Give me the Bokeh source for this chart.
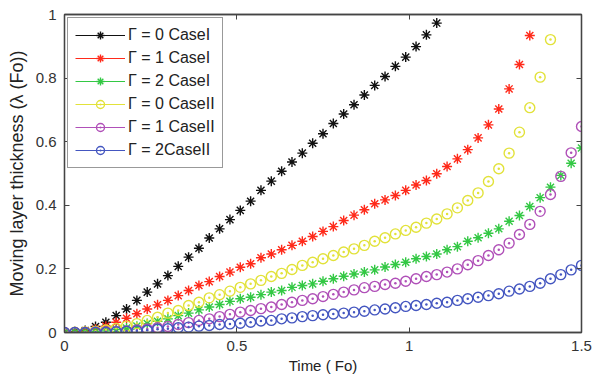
from bokeh.plotting import figure
from bokeh.models import Range1d, LinearAxis, FixedTicker, Legend, LegendItem, ColumnDataSource
from bokeh.embed import file_html
from bokeh.resources import INLINE

# ---- data ----
time_fo = [0.00, 0.03, 0.06, 0.09, 0.12, 0.15, 0.18, 0.21, 0.24, 0.27,
           0.30, 0.33, 0.36, 0.39, 0.42, 0.45, 0.48, 0.51, 0.54, 0.57,
           0.60, 0.63, 0.66, 0.69, 0.72, 0.75, 0.78, 0.81, 0.84, 0.87,
           0.90, 0.93, 0.96, 0.99, 1.02, 1.05, 1.08, 1.11, 1.14, 1.17,
           1.20, 1.23, 1.26, 1.29, 1.32, 1.35, 1.38, 1.41, 1.44, 1.47, 1.50]

g0_case1 = [0, 0.002, 0.006, 0.019, 0.032, 0.053, 0.074, 0.101, 0.127, 0.153,
            0.179, 0.208, 0.237, 0.265, 0.297, 0.326, 0.355, 0.384, 0.413, 0.447,
            0.476, 0.507, 0.536, 0.564, 0.595, 0.625, 0.657, 0.687, 0.716, 0.747,
            0.777, 0.805, 0.837, 0.866, 0.899, 0.936, 0.973]
g1_case1 = [0, 0.001, 0.004, 0.010, 0.020, 0.032, 0.045, 0.059, 0.074, 0.087,
            0.101, 0.116, 0.132, 0.148, 0.160, 0.176, 0.190, 0.205, 0.216, 0.235,
            0.247, 0.260, 0.274, 0.287, 0.302, 0.318, 0.333, 0.352, 0.369, 0.386,
            0.405, 0.417, 0.431, 0.447, 0.464, 0.478, 0.499, 0.522, 0.546, 0.575,
            0.612, 0.653, 0.703, 0.766, 0.843, 0.934]
g2_case1 = [0, 0.000, 0.001, 0.003, 0.005, 0.009, 0.014, 0.020, 0.028, 0.035,
            0.043, 0.053, 0.061, 0.071, 0.080, 0.088, 0.098, 0.106, 0.111, 0.119,
            0.127, 0.132, 0.142, 0.148, 0.153, 0.161, 0.169, 0.177, 0.184, 0.190,
            0.197, 0.206, 0.214, 0.221, 0.232, 0.239, 0.247, 0.260, 0.270, 0.287,
            0.298, 0.312, 0.326, 0.350, 0.368, 0.396, 0.424, 0.457, 0.494, 0.532, 0.580]
g0_case2 = [0, 0.001, 0.002, 0.004, 0.008, 0.013, 0.020, 0.028, 0.038, 0.048,
            0.061, 0.069, 0.085, 0.095, 0.109, 0.119, 0.130, 0.142, 0.153, 0.164,
            0.176, 0.186, 0.198, 0.211, 0.221, 0.232, 0.242, 0.253, 0.263, 0.274,
            0.287, 0.298, 0.310, 0.321, 0.331, 0.344, 0.357, 0.373, 0.392, 0.415,
            0.439, 0.475, 0.515, 0.564, 0.630, 0.707, 0.803, 0.921]
g1_case2 = [0, 0.000, 0.000, 0.001, 0.002, 0.003, 0.005, 0.008, 0.011, 0.015,
            0.019, 0.025, 0.031, 0.038, 0.043, 0.050, 0.057, 0.064, 0.069, 0.075,
            0.080, 0.088, 0.095, 0.101, 0.106, 0.113, 0.120, 0.127, 0.134, 0.141,
            0.145, 0.151, 0.155, 0.161, 0.169, 0.176, 0.182, 0.190, 0.200, 0.213,
            0.226, 0.242, 0.260, 0.281, 0.308, 0.340, 0.381, 0.434, 0.491, 0.565, 0.648]
g2_case2 = [0, 0.000, 0.000, 0.001, 0.001, 0.002, 0.004, 0.005, 0.007, 0.010,
            0.012, 0.015, 0.017, 0.020, 0.022, 0.025, 0.027, 0.029, 0.032, 0.036,
            0.038, 0.043, 0.046, 0.050, 0.053, 0.056, 0.058, 0.061, 0.064, 0.067,
            0.071, 0.074, 0.078, 0.082, 0.085, 0.088, 0.092, 0.095, 0.101, 0.106,
            0.111, 0.116, 0.122, 0.130, 0.137, 0.145, 0.155, 0.169, 0.182, 0.197, 0.211]

labels = ["\u0393 = 0 CaseI", "\u0393 = 1 CaseI", "\u0393 = 2 CaseI",
          "\u0393 = 0 CaseII", "\u0393 = 1 CaseII", "\u0393 = 2CaseII"]
series = [g0_case1, g1_case1, g2_case1, g0_case2, g1_case2, g2_case2]
colors = ["#111111", "#FF2A1A", "#33C844", "#E2E23A", "#B050B8", "#4456C0"]
markers = ["asterisk", "asterisk", "asterisk", "circle_dot", "circle_dot", "circle_dot"]

x_ticks = [0, 0.5, 1, 1.5]
y_ticks = [0, 0.2, 0.4, 0.6, 0.8, 1]

FONT = "Liberation Sans"
AX = "#444444"

p = figure(width=597, height=383, output_backend="svg", toolbar_location=None,
           x_range=Range1d(0, 1.5), y_range=Range1d(0, 1),
           min_border_left=64, min_border_right=16, min_border_top=14, min_border_bottom=51)
p.background_fill_color = "white"
p.border_fill_color = "white"
p.grid.visible = False
p.outline_line_color = AX
p.outline_line_width = 1.3

for ax in (p.xaxis[0], p.yaxis[0]):
    ax.axis_line_color = AX
    ax.axis_line_width = 1.3
    ax.major_tick_in = 5
    ax.major_tick_out = 0
    ax.major_tick_line_color = AX
    ax.minor_tick_line_color = None
    ax.major_label_text_font = FONT
    ax.major_label_text_font_size = "15px"
    ax.major_label_text_color = "#333333"
    ax.axis_label_text_font = FONT
    ax.axis_label_text_font_style = "normal"
    ax.axis_label_text_color = "#222222"

p.xaxis[0].ticker = FixedTicker(ticks=x_ticks)
p.yaxis[0].ticker = FixedTicker(ticks=y_ticks)
p.xaxis[0].major_label_overrides = {0: "0", 0.5: "0.5", 1: "1", 1.5: "1.5"}
p.yaxis[0].major_label_overrides = {0: "0", 0.2: "0.2", 0.4: "0.4", 0.6: "0.6", 0.8: "0.8", 1: "1"}
p.xaxis[0].axis_label = "Time ( Fo)"
p.xaxis[0].axis_label_text_font_size = "15px"
p.xaxis[0].major_label_standoff = 8
p.xaxis[0].axis_label_standoff = 3
p.yaxis[0].axis_label = "Moving layer thickness (\u03bb (Fo))"
p.yaxis[0].axis_label_text_font_size = "18px"
p.yaxis[0].major_label_standoff = 8
p.yaxis[0].axis_label_standoff = 6

# mirrored tick marks on top and right (no labels)
top = LinearAxis(ticker=FixedTicker(ticks=x_ticks))
right = LinearAxis(ticker=FixedTicker(ticks=y_ticks))
for ax in (top, right):
    ax.axis_line_color = AX
    ax.axis_line_width = 1.3
    ax.major_tick_in = 5
    ax.major_tick_out = 0
    ax.major_tick_line_color = AX
    ax.minor_tick_line_color = None
    ax.major_label_text_font_size = "10px"
    ax.major_label_standoff = 0
top.major_label_overrides = {t: "" for t in x_ticks}
right.major_label_overrides = {t: "" for t in y_ticks}
p.add_layout(top, "above")
p.add_layout(right, "right")

nan = float("nan")
items = []
for lab, ys, col, mk in zip(labels, series, colors, markers):
    src = ColumnDataSource(dict(x=time_fo[:len(ys)], y=ys))
    proxy = ColumnDataSource(dict(x=[nan], y=[nan]))
    lr = p.line("x", "y", source=proxy, line_color=col, line_width=1)
    if mk == "asterisk":
        sr = p.scatter("x", "y", source=src, marker=mk, size=10, line_color=col, line_width=1.4)
    else:
        sr = p.scatter("x", "y", source=src, marker=mk, size=10, line_color=col,
                       fill_color=None, line_width=1.4)
    items.append(LegendItem(label=lab, renderers=[lr, sr]))

legend = Legend(items=items, location="top_left")
legend.label_text_font = FONT
legend.label_text_font_size = "16px"
legend.label_text_color = "#222222"
legend.glyph_width = 50
legend.glyph_height = 20
legend.label_height = 20
legend.spacing = 3
legend.padding = 7
legend.margin = 3
legend.label_standoff = 3
legend.border_line_color = "#333333"
legend.border_line_width = 1
legend.background_fill_color = "white"
legend.background_fill_alpha = 1
p.add_layout(legend)

open("out.html", "w").write(file_html(p, INLINE))
